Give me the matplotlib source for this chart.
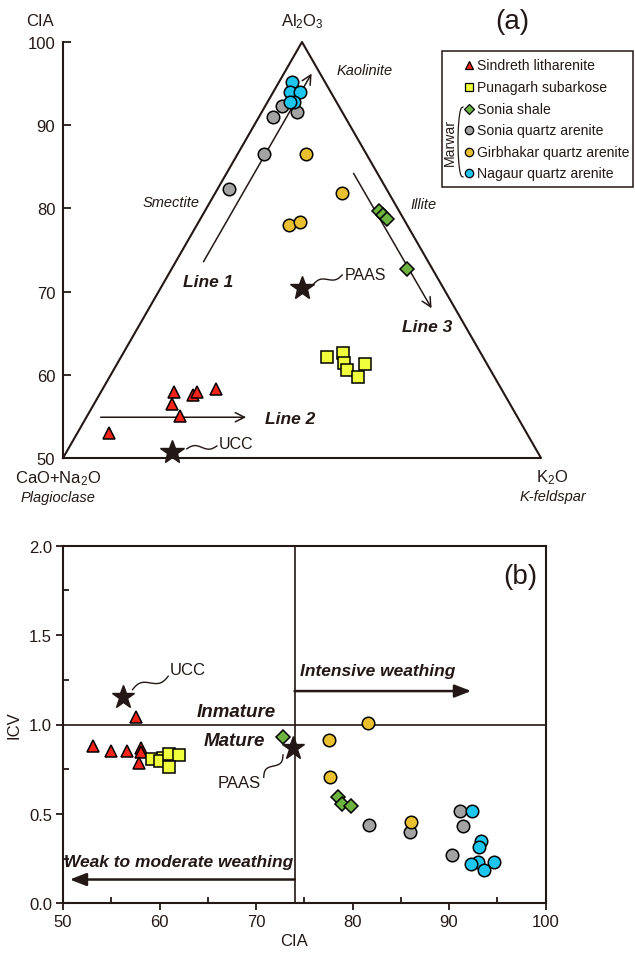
import matplotlib
matplotlib.use("Agg")
import matplotlib.pyplot as plt
from matplotlib.lines import Line2D
from matplotlib.patches import Rectangle
import numpy as np

plt.rcParams['font.family'] = ['Liberation Sans', 'DejaVu Sans']
plt.rcParams['mathtext.fontset'] = 'custom'
plt.rcParams['mathtext.rm'] = 'Liberation Sans'
plt.rcParams['mathtext.it'] = 'Liberation Sans:italic'
plt.rcParams['font.size'] = 11

INK = '#231815'

# ---- sample groups ----
names = ['Sindreth litharenite', 'Punagarh subarkose', 'Sonia shale',
         'Sonia quartz arenite', 'Girbhakar quartz arenite', 'Nagaur quartz arenite']
markers = ['^', 's', 'D', 'o', 'o', 'o']
colors = ['#f5241a', '#f0ff3c', '#6cb33f', '#a3a3a3', '#ebc02e', '#1dc6ef']
msizes = [9.1, 9.0, 6.8, 9.0, 9.0, 9.0]

# ---- (a) A-CN-K plot: horizontal position (0 = CN, 100 = K at base) and CIA ----
tern_x = [
    [9.7, 23.2, 22.7, 24.5, 27.3, 28.0, 32.0],
    [55.3, 58.6, 58.8, 59.4, 63.2, 61.7],
    [66.2, 67.0, 67.8, 71.9],
    [45.8, 43.9, 48.9, 42.1, 34.8],
    [50.8, 58.3, 47.3, 49.6],
    [47.9, 47.5, 49.6, 48.4, 47.5],
]
tern_cia = [
    [53.0, 57.9, 56.5, 55.0, 57.6, 57.9, 58.3],
    [62.1, 62.6, 61.4, 60.6, 61.3, 59.7],
    [79.7, 79.2, 78.7, 72.7],
    [92.3, 91.0, 91.6, 86.5, 82.3],
    [86.5, 81.9, 78.0, 78.4],
    [95.2, 94.0, 94.0, 92.8, 92.8],
]
paas_a = (50.1, 70.4)
ucc_a = (22.9, 50.7)
cia_ticks_a = [50, 60, 70, 80, 90, 100]

# ---- (b) CIA vs ICV ----
cia_b = [
    [53.1, 55.0, 56.6, 57.6, 58.1, 58.1, 57.9],
    [59.2, 60.4, 60.0, 61.0, 62.0, 61.0],
    [72.8, 78.5, 78.9, 79.8],
    [81.7, 86.0, 91.1, 91.5, 90.3],
    [81.6, 77.6, 77.7, 86.1],
    [92.4, 93.3, 93.1, 93.0, 92.3, 94.7, 93.6],
]
icv_b = [
    [0.877, 0.849, 0.854, 1.043, 0.870, 0.847, 0.786],
    [0.808, 0.814, 0.797, 0.836, 0.832, 0.763],
    [0.932, 0.593, 0.556, 0.543],
    [0.440, 0.397, 0.518, 0.434, 0.272],
    [1.009, 0.913, 0.707, 0.457],
    [0.515, 0.350, 0.314, 0.233, 0.220, 0.233, 0.187],
]
paas_b = (73.8, 0.87)
ucc_b = (56.2, 1.155)
cia_split = 74
icv_split = 1.0

W, H = 635, 954
fig = plt.figure(figsize=(W / 100, H / 100), dpi=100)


def squiggle(ax, p0, p1, amp=3.0):
    a = ax.transData.transform(p0)
    b = ax.transData.transform(p1)
    t = np.linspace(0, 1, 60)
    d = b - a
    n = np.array([-d[1], d[0]]) / np.hypot(d[0], d[1])
    pts = a + t[:, None] * d + n * (amp * np.sin(2 * np.pi * t))[:, None]
    q = ax.transData.inverted().transform(pts)
    ax.plot(q[:, 0], q[:, 1], color=INK, lw=1.0, clip_on=False)


# ================= panel (a) =================
ax1 = fig.add_axes([63 / W, 1 - 459 / H, 478 / W, 416 / H])
ax1.set_xlim(0, 100)
ax1.set_ylim(50, 100)
for s in ['top', 'right', 'bottom']:
    ax1.spines[s].set_visible(False)
ax1.spines['left'].set_linewidth(1.5)
ax1.spines['left'].set_color(INK)
ax1.set_xticks([])
ax1.set_yticks(cia_ticks_a)
ax1.tick_params(axis='y', direction='in', length=6, width=1.3, pad=5.5, color=INK, labelcolor=INK, labelsize=12)
ax1.patch.set_visible(False)

ax1.plot([0, 50, 100, 0], [50, 100, 50, 50], color=INK, lw=1.5, clip_on=False)

arrow_kw = dict(arrowstyle='->,head_length=0.6,head_width=0.3', color=INK, lw=1.1)
ax1.annotate('', xy=(52.3, 96.5), xytext=(29.1, 73.3), arrowprops=arrow_kw)
ax1.annotate('', xy=(38.9, 54.9), xytext=(7.3, 54.9), arrowprops=arrow_kw)
ax1.annotate('', xy=(77.4, 67.7), xytext=(60.5, 84.5), arrowprops=arrow_kw)

for i in range(len(names)):
    ax1.plot(tern_x[i], tern_cia[i], linestyle='none', marker=markers[i], ms=msizes[i],
             mfc=colors[i], mec='black', mew=1.1, clip_on=False, zorder=3)
ax1.plot(*paas_a, marker='*', ms=18, color=INK, clip_on=False, zorder=4)
ax1.plot(*ucc_a, marker='*', ms=18, color=INK, clip_on=False, zorder=4)
squiggle(ax1, (paas_a[0] + 2.3, paas_a[1] + 0.5), (58.4, 72.0), amp=2.5)
squiggle(ax1, (ucc_a[0] + 3.0, ucc_a[1] + 0.4), (32.2, 51.45), amp=2.5)
ax1.text(59.0, 72.1, 'PAAS', color=INK, fontsize=11.5, va='center', ha='left')
ax1.text(32.6, 51.7, 'UCC', color=INK, fontsize=11.5, va='center', ha='left')

lab = dict(color=INK, fontsize=12.5, fontweight='bold', fontstyle='italic', ha='center', va='center')
ax1.text(30.3, 71.2, 'Line 1', **lab)
ax1.text(47.5, 54.7, 'Line 2', **lab)
ax1.text(76.1, 65.8, 'Line 3', **lab)

ital = dict(color=INK, fontsize=10.5, fontstyle='italic', ha='center', va='center')
ax1.text(63.2, 96.6, 'Kaolinite', **ital)
ax1.text(22.6, 80.8, 'Smectite', **ital)
ax1.text(75.5, 80.5, 'Illite', **ital)
ax1.text(-1.0, 45.3, 'Plagioclase', **ital)
ax1.text(102.5, 45.4, 'K-feldspar', **ital)

ax1.text(-4.8, 102.6, 'CIA', color=INK, fontsize=12, ha='center', va='center')
ax1.text(50, 102.6, 'Al$_2$O$_3$', color=INK, fontsize=12, ha='center', va='center')
ax1.text(-1.0, 47.6, 'CaO+Na$_2$O', color=INK, fontsize=12, ha='center', va='center')
ax1.text(102.3, 47.8, 'K$_2$O', color=INK, fontsize=12, ha='center', va='center')
ax1.text(93.9, 102.5, '(a)', color=INK, fontsize=20, ha='center', va='center')

# legend drawn by hand (with the Marwar brace)
fig.add_artist(Rectangle((442 / W, 1 - 188 / H), (633 - 442) / W, 136 / H,
                         transform=fig.transFigure, fill=False, ec=INK, lw=1.1))
row_y = [66, 88, 110, 131, 153, 174]
leg_ms = [6.2, 6.0, 4.6, 6.0, 6.0, 6.0]
for i in range(len(names)):
    fig.add_artist(Line2D([469 / W], [1 - row_y[i] / H], transform=fig.transFigure,
                          marker=markers[i], ms=leg_ms[i], mfc=colors[i], mec='black',
                          mew=0.9, linestyle='none'))
    fig.text(477 / W, 1 - row_y[i] / H, names[i], color=INK, fontsize=10.1,
             ha='left', va='center')
bt = np.linspace(0, 1, 80)
bx = 463 - 5 * np.sin(np.pi * bt) ** 0.35
by = 108 + (178 - 108) * bt
fig.add_artist(Line2D(bx / W, 1 - by / H, transform=fig.transFigure, color=INK, lw=0.9))
fig.text(450 / W, 1 - 142 / H, 'Marwar', color=INK, fontsize=10.1, rotation=90,
         ha='center', va='center')

# ================= panel (b) =================
ax2 = fig.add_axes([63 / W, 1 - 904.3 / H, 482.5 / W, 357.6 / H])
ax2.set_xlim(50, 100)
ax2.set_ylim(0, 2)
for s in ax2.spines.values():
    s.set_linewidth(1.5)
    s.set_color(INK)
ax2.set_xticks([50, 60, 70, 80, 90, 100])
ax2.set_xticks([55, 65, 75, 85, 95], minor=True)
ax2.set_yticks([0.0, 0.5, 1.0, 1.5, 2.0])
ax2.set_yticks([0.25, 0.75, 1.25, 1.75], minor=True)
ax2.set_yticklabels(['0.0', '0.5', '1.0', '1.5', '2.0'])
ax2.tick_params(which='major', direction='out', length=5, width=1.3, pad=3,
                color=INK, labelcolor=INK, labelsize=12)
ax2.tick_params(which='minor', direction='in', length=4, width=1.3, color=INK)
ax2.set_xlabel('CIA', color=INK, fontsize=12)
ax2.xaxis.set_label_coords(0.479, -0.083)
ax2.set_ylabel('ICV', color=INK, fontsize=12, labelpad=5)

ax2.axvline(cia_split, color=INK, lw=1.2)
ax2.axhline(icv_split, color=INK, lw=1.2)

big = dict(arrowstyle='-|>,head_length=0.9,head_width=0.35', color=INK, lw=1.8,
           shrinkA=0, shrinkB=0)
ax2.annotate('', xy=(92.3, 1.187), xytext=(cia_split, 1.187), arrowprops=big)
ax2.annotate('', xy=(50.7, 0.133), xytext=(cia_split, 0.133), arrowprops=big)

bl = dict(color=INK, fontweight='bold', fontstyle='italic')
ax2.text(74.6, 1.30, 'Intensive weathing', fontsize=12.5, ha='left', va='center', **bl)
ax2.text(73.9, 0.235, 'Weak to moderate weathing', fontsize=12.5, ha='right', va='center', **bl)
ax2.text(67.9, 1.075, 'Inmature', fontsize=13.5, ha='center', va='center', **bl)
ax2.text(67.8, 0.91, 'Mature', fontsize=13.5, ha='center', va='center', **bl)
ax2.text(97.4, 1.83, '(b)', color=INK, fontsize=20, ha='center', va='center')

for i in range(len(names)):
    ax2.plot(cia_b[i], icv_b[i], linestyle='none', marker=markers[i], ms=msizes[i],
             mfc=colors[i], mec='black', mew=1.1, zorder=3)
ax2.plot(*ucc_b, marker='*', ms=17, color=INK, zorder=4)
ax2.plot(*paas_b, marker='*', ms=17, color=INK, zorder=4)
squiggle(ax2, (ucc_b[0] + 1.0, ucc_b[1] + 0.04), (60.9, 1.27), amp=3.5)
squiggle(ax2, (paas_b[0] - 1.0, paas_b[1] - 0.04), (70.8, 0.705), amp=3.5)
ax2.text(61.1, 1.31, 'UCC', color=INK, fontsize=12, ha='left', va='center')
ax2.text(68.3, 0.676, 'PAAS', color=INK, fontsize=12, ha='center', va='center')

fig.savefig('out.png', dpi=100)
